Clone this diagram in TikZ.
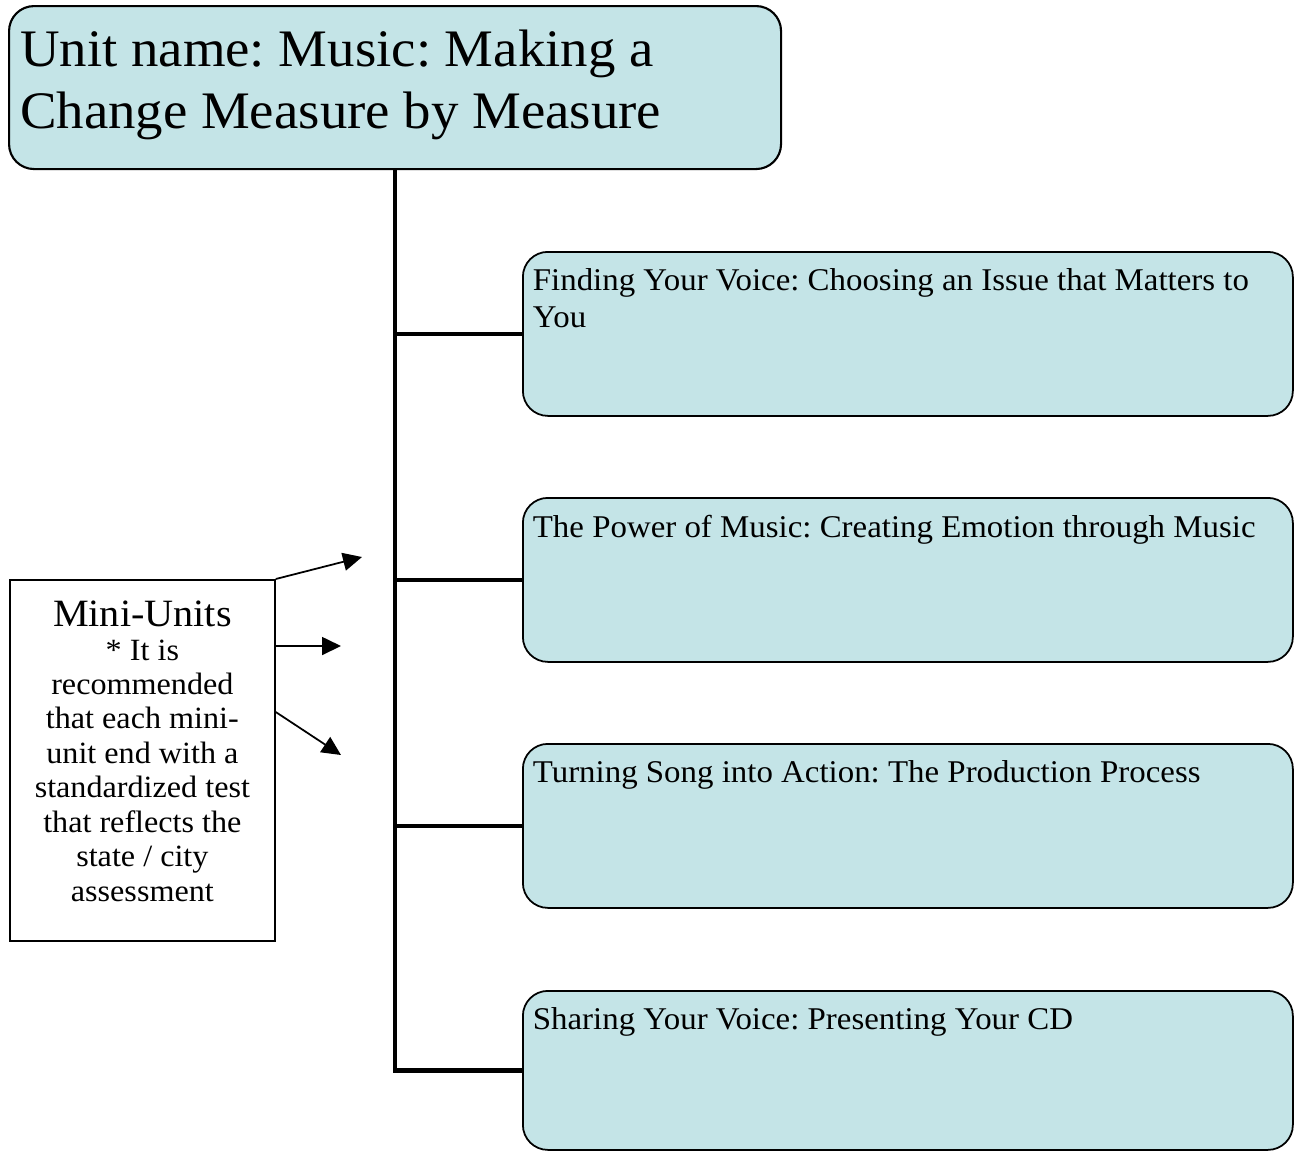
\documentclass[tikz,border=0pt]{standalone}
\usepackage{fontspec}
\setmainfont{Liberation Serif}[FakeStretch=1.04]
\usepackage{tikz}
\usetikzlibrary{
    shapes,
    positioning,
    calc,
    arrows.meta
}
\frenchspacing
\definecolor{unitblue}{HTML}{C4E4E7}
\newcommand{\toptext}[2]{\parbox[t][#1][t]{75mm}{\raggedright #2}}
\tikzset{
  unitbox/.style = {
      draw,
      rectangle,
      rounded corners=2.5mm,
      fill=unitblue,
      line width=0.6pt,
      anchor=north west,
      inner xsep=1.1mm,
      inner ysep=2.3mm,
      minimum width=77mm,
      minimum height=16.3mm,
      font=\fontsize{15}{17.6}\selectfont
  },
  topic/.style = {
      draw,
      rectangle,
      rounded corners=2.5mm,
      fill=unitblue,
      line width=0.5pt,
      anchor=north west,
      inner xsep=1mm,
      inner ysep=1.7mm,
      minimum width=76.8mm,
      minimum height=16.3mm,
      font=\fontsize{9}{10.5}\selectfont
  },
  note/.style = {
      draw,
      rectangle,
      line width=0.5pt,
      anchor=north west,
      minimum width=26.5mm,
      minimum height=36.1mm,
      align=center
  },
  spine/.style = {
      line width=1.3pt
  },
  pointer/.style = {
      line width=0.5pt,
      -{Triangle[length=1.9mm,width=1.8mm]}
  }
}
\begin{document}
\begin{tikzpicture}[x=0.1mm, y=-0.1mm]
    \useasboundingbox (0,0) rectangle (1298,1150);
    % Nodes
    \node[unitbox] (unit) at (8,5)
        {\toptext{11.5mm}{Unit name: Music: Making a\\Change Measure by Measure}};
    \node[topic] (t1) at (522,251)
        {\toptext{13mm}{Finding Your Voice: Choosing an Issue that Matters to\\You}};
    \node[topic] (t2) at (522,497)
        {\toptext{13mm}{The Power of Music: Creating Emotion through Music}};
    \node[topic] (t3) at (522,743)
        {\toptext{13mm}{Turning Song into Action: The Production Process}};
    \node[topic, minimum height=15.9mm] (t4) at (522,990)
        {\toptext{12.5mm}{Sharing Your Voice: Presenting Your CD}};
    \node[note] (mini) at (9,579) {};
    \node[anchor=north, align=center, font=\fontsize{11}{13}\selectfont]
        (minititle) at ($(mini.north)+(0,9)$) {Mini-Units};
    \node[anchor=north, align=center, font=\fontsize{8.8}{9.8}\selectfont,
        inner ysep=0pt] (mininote) at (minititle.south)
        {* It is\\recommended\\that each mini-\\unit end with a\\standardized test\\that reflects the\\state / city\\assessment};
    \coordinate (spinetop) at (unit.south -| 395,0);
    \coordinate (a1) at (362,557);
    \coordinate (a2) at (341,646);
    \coordinate (a3) at (341,755);
    % Edges
    \path[draw, spine]
    (spinetop) |- (t4.west)
    (spinetop |- t1.west) -- (t1.west)
    (spinetop |- t2.west) -- (t2.west)
    (spinetop |- t3.west) -- (t3.west);
    \draw[pointer] (mini.north east) -- (a1);
    \draw[pointer] ([yshift=-6.7mm]mini.north east) -- (a2);
    \draw[pointer] ([yshift=-13.3mm]mini.north east) -- (a3);
\end{tikzpicture}
\end{document}
